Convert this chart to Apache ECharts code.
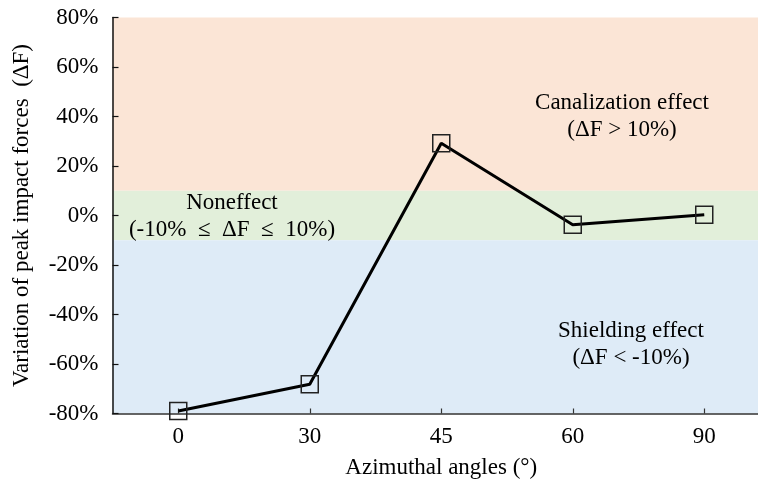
<!DOCTYPE html>
<html>
<head>
<meta charset="utf-8">
<script src="https://cdn.jsdelivr.net/npm/echarts@6/dist/echarts.min.js"></script>
<style>html,body{margin:0;padding:0;background:#fff;}#c{width:758px;height:488px;}</style>
</head>
<body>
<div id="c"></div>
<script>
const angles = ['0', '30', '45', '60', '90'];
const deltaF = [-79, -68.2, 29.2, -3.7, 0.3];
const yTicks = { min: -80, max: 80, interval: 20 };
const bands = [
  { from: 10, to: 80, color: '#FBE5D6' },
  { from: -10, to: 10, color: '#E2EFDA' },
  { from: -80, to: -10, color: '#DEEBF7' }
];
const notes = [
  { lines: ['Canalization effect', '(ΔF > 10%)'], x: 622, y: 116 },
  { lines: ['Noneffect', '(-10%  ≤  ΔF  ≤  10%)'], x: 232, y: 216 },
  { lines: ['Shielding effect', '(ΔF < -10%)'], x: 631, y: 344 }
];

const FONT = '"Liberation Serif", "Times New Roman", serif';
const FS = 23;
const chart = echarts.init(document.getElementById('c'), null, { renderer: 'canvas' });
chart.setOption({
  animation: false,
  backgroundColor: '#fff',
  grid: { left: 112.5, top: 17.5, width: 657.5, height: 396, outerBoundsMode: 'none', containLabel: false },
  xAxis: {
    type: 'category',
    data: angles,
    boundaryGap: true,
    name: 'Azimuthal angles (°)',
    nameLocation: 'middle',
    nameGap: 43,
    nameTextStyle: { fontFamily: FONT, fontSize: FS, color: '#000' },
    axisLine: { onZero: false, lineStyle: { color: '#333', width: 1.5 } },
    axisTick: { show: true, inside: true, alignWithLabel: true, length: 5, lineStyle: { color: '#333', width: 1.2 } },
    axisLabel: { fontFamily: FONT, fontSize: FS, color: '#000', margin: 12 },
    splitLine: { show: false }
  },
  yAxis: {
    type: 'value',
    min: yTicks.min, max: yTicks.max, interval: yTicks.interval,
    name: 'Variation of peak impact forces  (ΔF)',
    nameLocation: 'middle',
    nameGap: 79,
    nameRotate: 90,
    nameTextStyle: { fontFamily: FONT, fontSize: FS, color: '#000' },
    axisLine: { show: true, lineStyle: { color: '#111', width: 1.5 } },
    axisTick: { show: true, inside: true, length: 6, lineStyle: { color: '#111', width: 1.2 } },
    axisLabel: { fontFamily: FONT, fontSize: FS, color: '#000', margin: 14, formatter: '{value}%' },
    splitLine: { show: false }
  },
  series: [{
    type: 'line',
    data: deltaF,
    symbol: 'rect',
    symbolSize: 17,
    lineStyle: { color: '#000', width: 3 },
    itemStyle: { color: 'rgba(0,0,0,0)', borderColor: '#222', borderWidth: 1.5 },
    markArea: {
      silent: true,
      z: -1,
      data: bands.map(b => [
        { yAxis: b.from, itemStyle: { color: b.color } },
        { yAxis: b.to }
      ])
    },
    z: 3
  }],
  graphic: notes.map(n => ({
    type: 'text',
    x: n.x, y: n.y,
    style: {
      text: n.lines.join('\n'),
      font: FS + 'px ' + FONT,
      fill: '#000',
      align: 'center',
      verticalAlign: 'middle',
      lineHeight: 27
    },
    z: 10
  }))
});
</script>
</body>
</html>
